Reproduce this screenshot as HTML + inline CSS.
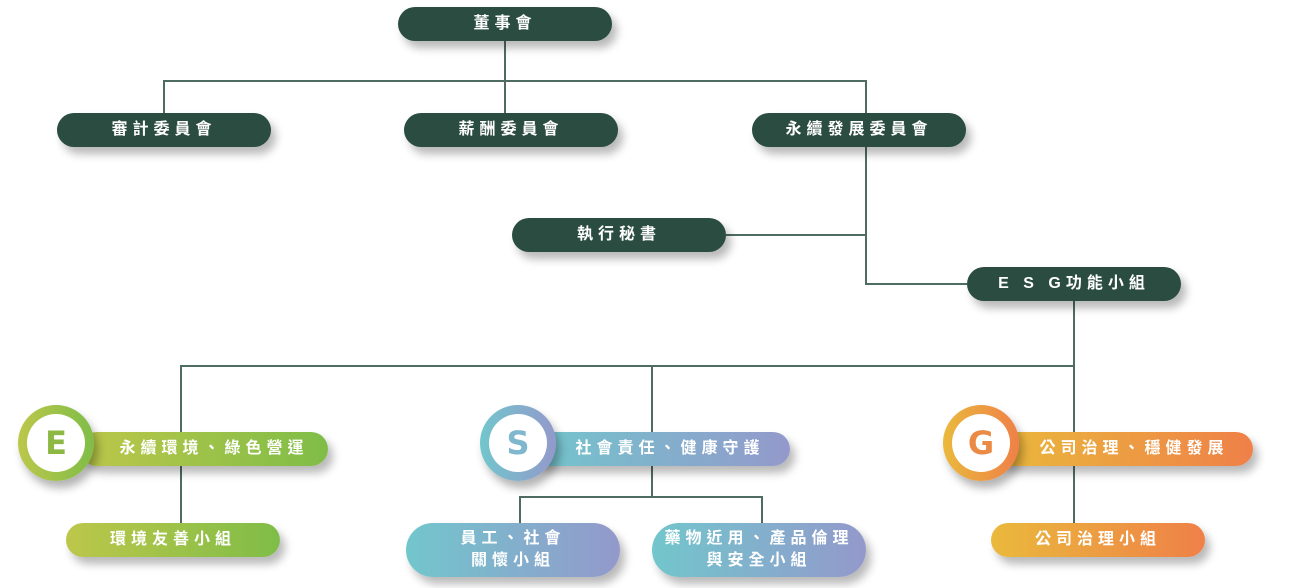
<!DOCTYPE html>
<html><head><meta charset="utf-8"><style>
body{margin:0;width:1309px;height:588px;background:#fff;position:relative;overflow:hidden;font-family:"Liberation Sans","Noto Sans CJK TC",sans-serif}
.p{position:absolute;height:34px;border-radius:17px;color:#fff;font-weight:bold;font-size:16px;letter-spacing:5px;display:flex;align-items:center;justify-content:center;text-align:center;box-shadow:5px 7px 9px rgba(0,0,0,.28);line-height:22px}
.d{background:#2b4c40}
.e{background:linear-gradient(90deg,#bcc74a,#7fbd48)}
.s{background:linear-gradient(90deg,#72c6cc,#9399cb)}
.g{background:linear-gradient(90deg,#eab93c,#ef8048)}
.l{position:absolute;background:#4f6c63}
.c{position:absolute;width:76px;height:76px;border-radius:50%;box-shadow:4px 7px 9px rgba(0,0,0,.3)}
.c div{position:absolute;left:9px;top:9px;width:58px;height:58px;border-radius:50%;background:#fff;font-size:32px;font-weight:bold;display:flex;align-items:center;justify-content:center;font-family:"DejaVu Sans",sans-serif}
</style></head><body>
<div class="l" style="left:504px;top:41px;width:2px;height:72px"></div>
<div class="l" style="left:164px;top:80px;width:702px;height:2px"></div>
<div class="l" style="left:163px;top:80px;width:2px;height:33px"></div>
<div class="l" style="left:865px;top:80px;width:2px;height:204px"></div>
<div class="l" style="left:726px;top:234px;width:140px;height:2px"></div>
<div class="l" style="left:865px;top:283px;width:102px;height:2px"></div>
<div class="l" style="left:1073px;top:301px;width:2px;height:222px"></div>
<div class="l" style="left:181px;top:365px;width:893px;height:2px"></div>
<div class="l" style="left:180px;top:365px;width:2px;height:158px"></div>
<div class="l" style="left:651px;top:365px;width:2px;height:132px"></div>
<div class="l" style="left:519px;top:496px;width:243px;height:2px"></div>
<div class="l" style="left:519px;top:496px;width:2px;height:27px"></div>
<div class="l" style="left:761px;top:496px;width:2px;height:27px"></div>

<div class="p d" style="left:398px;top:7px;width:214px">董事會</div>
<div class="p d" style="left:57px;top:113px;width:214px">審計委員會</div>
<div class="p d" style="left:404px;top:113px;width:214px">薪酬委員會</div>
<div class="p d" style="left:752px;top:113px;width:214px">永續發展委員會</div>
<div class="p d" style="left:512px;top:218px;width:214px">執行秘書</div>
<div class="p d" style="left:967px;top:267px;width:214px">E S G功能小組</div>

<div class="p e" style="left:80px;top:432px;width:248px;padding-left:20px;box-sizing:border-box">永續環境、綠色營運</div>
<div class="c e" style="left:18px;top:405px"><div style="color:#8db844">E</div></div>
<div class="p e" style="left:66px;top:523px;width:214px">環境友善小組</div>

<div class="p s" style="left:530px;top:432px;width:260px;padding-left:20px;box-sizing:border-box">社會責任、健康守護</div>
<div class="c s" style="left:480px;top:405px"><div style="color:#7fb7cf">S</div></div>
<div class="p s" style="left:406px;top:523px;width:214px;height:54px;border-radius:27px">員工、社會<br>關懷小組</div>
<div class="p s" style="left:652px;top:523px;width:214px;height:54px;border-radius:27px">藥物近用、產品倫理<br>與安全小組</div>

<div class="p g" style="left:995px;top:432px;width:258px;padding-left:20px;box-sizing:border-box">公司治理、穩健發展</div>
<div class="c g" style="left:943px;top:405px"><div style="color:#eb8a45">G</div></div>
<div class="p g" style="left:991px;top:523px;width:214px">公司治理小組</div>
</body></html>
